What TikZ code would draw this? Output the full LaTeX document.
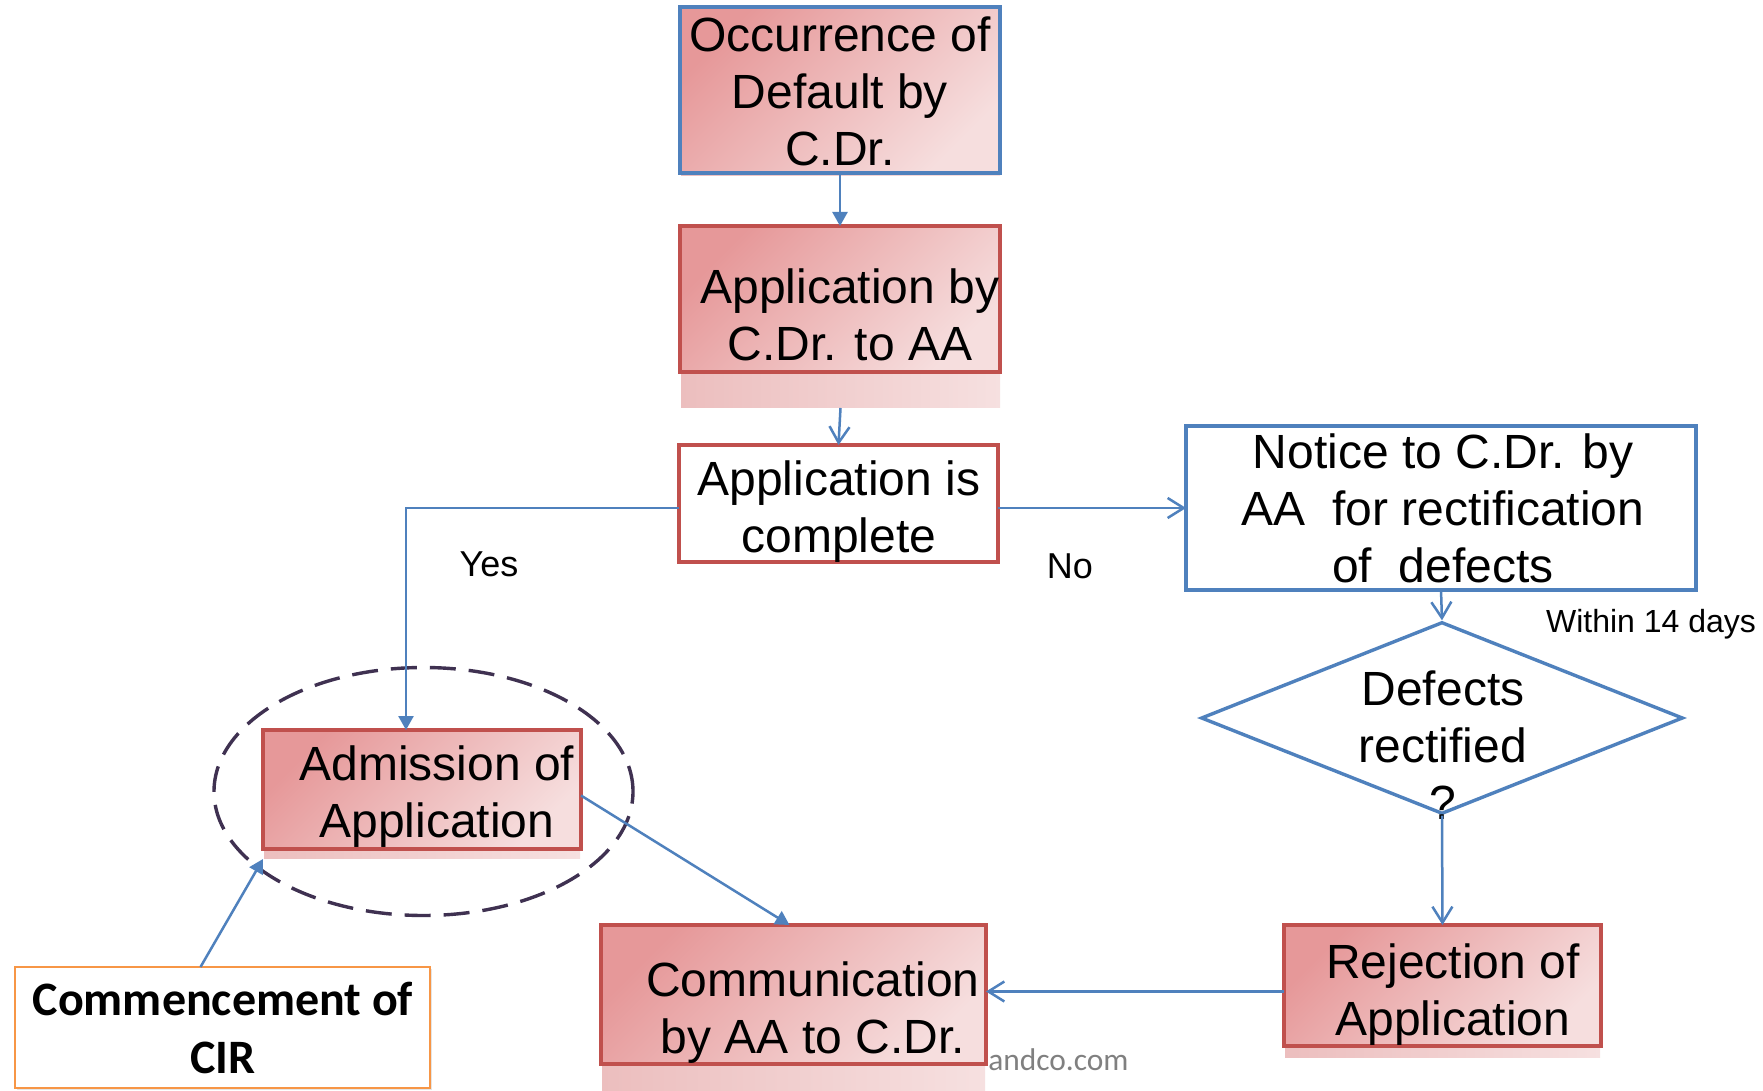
\documentclass[tikz,border=0pt]{standalone}
\usepackage{fontspec}
\setmainfont{Liberation Sans}
\newfontfamily\calfont{Carlito}
\usetikzlibrary{arrows.meta,shapes.geometric,shadows}

\definecolor{pkdark}{RGB}{230,152,153}
\definecolor{pklight}{RGB}{246,222,222}
\definecolor{refldark}{RGB}{236,190,190}
\definecolor{refllight}{RGB}{246,224,224}
\definecolor{offred}{RGB}{192,80,77}
\definecolor{offblue}{RGB}{79,129,189}
\definecolor{offorange}{RGB}{247,150,70}
\definecolor{ringpurple}{RGB}{63,49,81}
\definecolor{markgray}{RGB}{128,128,128}

\begin{document}
\begin{tikzpicture}[x=0.5pt,y=-0.5pt,
  box/.style={rectangle, inner sep=0pt, outer sep=0pt},
  pinkbox/.style={box, draw=offred, line width=1.7pt,
    top color=pkdark, bottom color=pklight, shading angle=45},
  bluepink/.style={pinkbox, draw=offblue, line width=1.9pt},
  whitered/.style={box, draw=offred, line width=1.6pt, fill=white},
  whiteblue/.style={box, draw=offblue, line width=1.7pt, fill=white},
  reflection/.style={box, left color=refldark, right color=refllight},
  txt/.style={align=center, inner sep=0pt, font=\fontsize{24}{28.5}\selectfont},
  smalltxt/.style={inner sep=0pt, font=\fontsize{16}{19}\selectfont},
  midtxt/.style={inner sep=0pt, font=\fontsize{18}{21}\selectfont},
  solidhead/.style={draw=offblue, line width=1.25pt, -{Triangle[length=7pt,width=7.5pt]}},
  openhead/.style={draw=offblue, line width=1.25pt, -{Straight Barb[length=8pt,width=10pt]}}
]
\fill[white] (0,0) rectangle (1763,1091);
\useasboundingbox (0,0) rectangle (1763,1091);

% reflections under the shaded boxes
\node[reflection, minimum width=159.5pt, minimum height=2pt] (r1) at (840.5,174) {};
\node[reflection, minimum width=159.5pt, minimum height=18pt] (r2) at (840.5,390) {};
\node[reflection, minimum width=158pt, minimum height=4.5pt] (radm) at (422,853.5) {};
\node[reflection, minimum width=191.5pt, minimum height=13.5pt] (rcomm) at (793.5,1077.5) {};
\node[reflection, minimum width=157.5pt, minimum height=5.5pt] (rrej) at (1442.5,1051.5) {};

% process boxes
\node[bluepink, minimum width=160pt, minimum height=83pt] (b1) at (840,90) {};
\node[pinkbox, minimum width=160pt, minimum height=73pt] (b2) at (840,299) {};
\node[whitered, minimum width=159.5pt, minimum height=58.5pt] (b3) at (838.5,503.5) {};
\node[whiteblue, minimum width=255pt, minimum height=82pt] (notice) at (1441,508) {};
\node[diamond, draw=offblue, line width=1.7pt, fill=white, inner sep=0pt,
      minimum width=241pt, minimum height=96pt] (dia) at (1442,718) {};
\node[pinkbox, minimum width=159pt, minimum height=59.5pt] (adm) at (422,789.5) {};
\node[pinkbox, minimum width=192.5pt, minimum height=69.5pt] (comm) at (793.5,994.5) {};
\node[pinkbox, minimum width=158.5pt, minimum height=60.5pt] (rej) at (1442.5,985.5) {};
\node[box, draw=offorange, line width=1.1pt, fill=white,
      drop shadow={shadow xshift=1.2pt, shadow yshift=-1.2pt, opacity=0.2},
      minimum width=207.5pt, minimum height=60.5pt] (cir) at (222.5,1027.5) {};

% dashed ring round the admission step
\node[ellipse, draw=ringpurple, line width=1.7pt, dash pattern=on 13pt off 6.5pt,
      inner sep=0pt, minimum width=209.5pt, minimum height=124pt] (ring) at (423.5,791.5) {};

% box texts
\node[txt] (t1) at (840,91) {Occurrence of\\Default by\\C.Dr.};
\node[txt] (t2) at (850,315) {Application by\\C.Dr. to AA};
\node[txt] (t3) at (839,512) {Application is\\complete};
\node[txt] (t4) at (1443,508) {Notice to C.Dr. by\\AA~ for rectification\\of~ defects};
\node[txt] (t5) at (1443,745) {Defects\\rectified\\?};
\node[txt] (t6) at (437,797) {Admission of\\Application};
\node[txt] (t7) at (813,1013) {Communication\\by AA to C.Dr.};
\node[txt] (t8) at (1453,995) {Rejection of\\Application};
\node[align=center, inner sep=0pt, font=\calfont\bfseries\fontsize{24}{29}\selectfont]
      (t9) at (223,1028) {Commencement of\\CIR};

% side labels
\node[midtxt] (yes) at (489,564) {Yes};
\node[midtxt] (no) at (1070,566) {No};
\node[smalltxt] (days) at (1651,624) {Within 14 days};
\node[anchor=west, inner sep=0pt, text=markgray, font=\calfont\fontsize{15.7}{19}\selectfont]
      (mark) at (988,1060) {andco.com};

% connectors
\draw[solidhead] (b1.south) -- (b2.north);
\draw[openhead] (r2.south) -- (b3.north);
\draw[solidhead] (b3.west |- notice.west) -| ([xshift=-8pt]adm.north);
\draw[openhead] (b3.east |- notice.west) -- (notice.west);
\draw[openhead] (notice.south) -- (dia.north);
\draw[openhead] (dia.south) -- (rej.north);
\draw[openhead] ([yshift=-3pt]rej.west) -- ([yshift=-3pt]rej.west -| comm.east);
\draw[solidhead] ([yshift=-3pt]adm.east) -- ([xshift=-2pt]comm.north);
\draw[solidhead] ([xshift=-11pt]cir.north) -- ([yshift=-5pt]adm.south west);
\end{tikzpicture}
\end{document}
